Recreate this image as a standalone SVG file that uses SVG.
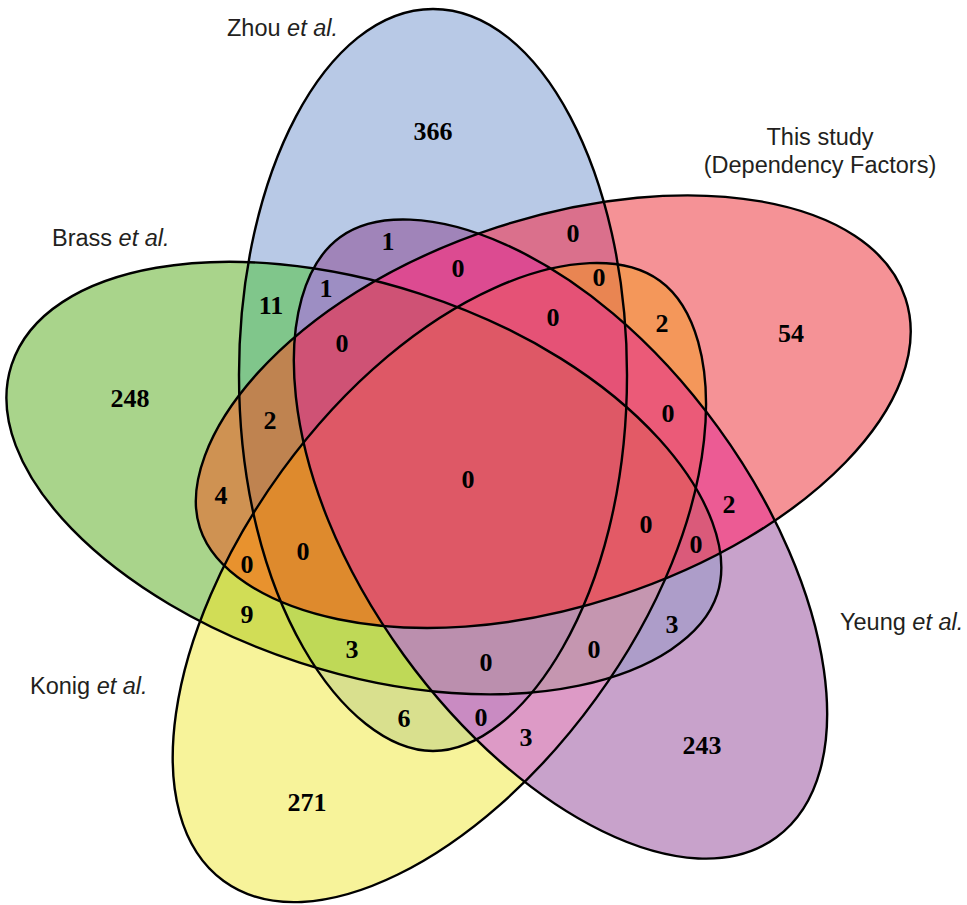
<svg xmlns="http://www.w3.org/2000/svg" width="967" height="905" viewBox="0 0 967 905">
<style>
.lab{font-family:"Liberation Sans",Arial,sans-serif;font-size:23.5px;fill:#231f20}
.num{font-family:"Liberation Serif","Times New Roman",serif;font-size:26px;font-weight:bold;fill:#000;text-anchor:middle}
.edge{fill:none;stroke:#000;stroke-width:2.4}
</style>
<defs>
<path id="egg" d="M433,9 C540,9 627,174 627,375 C627,601 520,751 433,751 C346,751 239,601 239,375 C239,174 326,9 433,9 Z"/>
<clipPath id="cZ"><use href="#egg"/></clipPath>
<clipPath id="cT"><use href="#egg" transform="rotate(72 470 479)"/></clipPath>
<clipPath id="cY"><use href="#egg" transform="rotate(144 470 479)"/></clipPath>
<clipPath id="cK"><use href="#egg" transform="rotate(216 470 479)"/></clipPath>
<clipPath id="cB"><use href="#egg" transform="translate(0,-4) rotate(288 470 479)"/></clipPath>
<rect id="all" x="0" y="0" width="967" height="905"/>
</defs>
<rect width="967" height="905" fill="#fff"/>
<g id="regions">
<use href="#egg" fill="#b8c9e6"/>
<use href="#egg" transform="rotate(72 470 479)" fill="#f59296"/>
<use href="#egg" transform="rotate(144 470 479)" fill="#c8a2cb"/>
<use href="#egg" transform="rotate(216 470 479)" fill="#f7f39a"/>
<use href="#egg" transform="translate(0,-4) rotate(288 470 479)" fill="#a9d48b"/>
<!-- pairs -->
<g clip-path="url(#cZ)"><use href="#all" clip-path="url(#cB)" fill="#80c68b"/></g>
<g clip-path="url(#cZ)"><use href="#all" clip-path="url(#cY)" fill="#a084b9"/></g>
<g clip-path="url(#cZ)"><use href="#all" clip-path="url(#cT)" fill="#da708c"/></g>
<g clip-path="url(#cZ)"><use href="#all" clip-path="url(#cK)" fill="#d9e08e"/></g>
<g clip-path="url(#cT)"><use href="#all" clip-path="url(#cK)" fill="#f4975a"/></g>
<g clip-path="url(#cT)"><use href="#all" clip-path="url(#cY)" fill="#ec5b94"/></g>
<g clip-path="url(#cT)"><use href="#all" clip-path="url(#cB)" fill="#cf9252"/></g>
<g clip-path="url(#cB)"><use href="#all" clip-path="url(#cK)" fill="#d1dd56"/></g>
<g clip-path="url(#cK)"><use href="#all" clip-path="url(#cY)" fill="#dd9ac6"/></g>
<g clip-path="url(#cY)"><use href="#all" clip-path="url(#cB)" fill="#ad9dc9"/></g>
<!-- triples -->
<g clip-path="url(#cZ)"><g clip-path="url(#cY)"><use href="#all" clip-path="url(#cB)" fill="#9d8ec3"/></g></g>
<g clip-path="url(#cZ)"><g clip-path="url(#cT)"><use href="#all" clip-path="url(#cY)" fill="#dc4b91"/></g></g>
<g clip-path="url(#cZ)"><g clip-path="url(#cT)"><use href="#all" clip-path="url(#cB)" fill="#bf8350"/></g></g>
<g clip-path="url(#cZ)"><g clip-path="url(#cT)"><use href="#all" clip-path="url(#cK)" fill="#e98552"/></g></g>
<g clip-path="url(#cT)"><g clip-path="url(#cY)"><use href="#all" clip-path="url(#cK)" fill="#eb5a78"/></g></g>
<g clip-path="url(#cT)"><g clip-path="url(#cK)"><use href="#all" clip-path="url(#cB)" fill="#e8922e"/></g></g>
<g clip-path="url(#cZ)"><g clip-path="url(#cK)"><use href="#all" clip-path="url(#cB)" fill="#bfd957"/></g></g>
<g clip-path="url(#cT)"><g clip-path="url(#cY)"><use href="#all" clip-path="url(#cB)" fill="#da5a7a"/></g></g>
<g clip-path="url(#cY)"><g clip-path="url(#cK)"><use href="#all" clip-path="url(#cB)" fill="#c596b0"/></g></g>
<g clip-path="url(#cZ)"><g clip-path="url(#cY)"><use href="#all" clip-path="url(#cK)" fill="#c98bc2"/></g></g>
<!-- quads -->
<g clip-path="url(#cZ)"><g clip-path="url(#cT)"><g clip-path="url(#cY)"><use href="#all" clip-path="url(#cB)" fill="#cf5275"/></g></g></g>
<g clip-path="url(#cZ)"><g clip-path="url(#cT)"><g clip-path="url(#cY)"><use href="#all" clip-path="url(#cK)" fill="#e55276"/></g></g></g>
<g clip-path="url(#cZ)"><g clip-path="url(#cT)"><g clip-path="url(#cK)"><use href="#all" clip-path="url(#cB)" fill="#de8a2d"/></g></g></g>
<g clip-path="url(#cT)"><g clip-path="url(#cY)"><g clip-path="url(#cK)"><use href="#all" clip-path="url(#cB)" fill="#e35a66"/></g></g></g>
<g clip-path="url(#cZ)"><g clip-path="url(#cY)"><g clip-path="url(#cK)"><use href="#all" clip-path="url(#cB)" fill="#bb8fae"/></g></g></g>
<!-- all five -->
<g clip-path="url(#cZ)"><g clip-path="url(#cT)"><g clip-path="url(#cY)"><g clip-path="url(#cK)"><use href="#all" clip-path="url(#cB)" fill="#de5866"/></g></g></g></g>
</g>
<g id="set-zhou"><use class="edge" href="#egg"/><text class="lab" x="227" y="36">Zhou <tspan font-style="italic">et al.</tspan></text></g>
<g id="set-this-study"><use class="edge" href="#egg" transform="rotate(72 470 479)"/><text class="lab" x="820" y="145" text-anchor="middle">This study</text><text class="lab" x="820" y="173" text-anchor="middle">(Dependency Factors)</text></g>
<g id="set-yeung"><use class="edge" href="#egg" transform="rotate(144 470 479)"/><text class="lab" x="840" y="630">Yeung <tspan font-style="italic">et al.</tspan></text></g>
<g id="set-konig"><use class="edge" href="#egg" transform="rotate(216 470 479)"/><text class="lab" x="30" y="694">Konig <tspan font-style="italic">et al.</tspan></text></g>
<g id="set-brass"><use class="edge" href="#egg" transform="translate(0,-4) rotate(288 470 479)"/><text class="lab" x="52" y="246">Brass <tspan font-style="italic">et al.</tspan></text></g>
<g id="counts" class="num">
<text x="433" y="140">366</text>
<text x="388" y="250">1</text>
<text x="458" y="277">0</text>
<text x="326" y="297">1</text>
<text x="271" y="314">11</text>
<text x="342" y="352">0</text>
<text x="270" y="429">2</text>
<text x="573" y="242">0</text>
<text x="599" y="286">0</text>
<text x="553" y="326">0</text>
<text x="662" y="332">2</text>
<text x="791" y="342">54</text>
<text x="668" y="422">0</text>
<text x="130" y="407">248</text>
<text x="221" y="504">4</text>
<text x="303" y="560">0</text>
<text x="247" y="573">0</text>
<text x="247" y="623">9</text>
<text x="352" y="658">3</text>
<text x="404" y="727">6</text>
<text x="307" y="811">271</text>
<text x="468" y="488">0</text>
<text x="729" y="513">2</text>
<text x="646" y="533">0</text>
<text x="696" y="553">0</text>
<text x="672" y="633">3</text>
<text x="594" y="658">0</text>
<text x="486" y="671">0</text>
<text x="481" y="726">0</text>
<text x="526" y="746">3</text>
<text x="702" y="754">243</text>
</g>
</svg>
